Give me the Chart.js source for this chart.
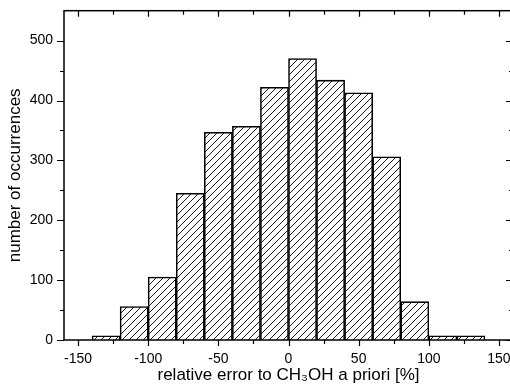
<!DOCTYPE html>
<html>
<head>
<meta charset="utf-8">
<script src="https://cdn.jsdelivr.net/npm/chart.js@4"></script>
<style>
  html, body { margin: 0; padding: 0; background: #fff; overflow: hidden; }
  #wrap { width: 520px; height: 386px; }
</style>
</head>
<body>
<div id="wrap"><canvas id="histCanvas" width="520" height="386"></canvas></div>
<script>
// histogram bins (centre of each 20 % wide bin) and counts
const binCenters = [-130, -110, -90, -70, -50, -30, -10, 10, 30, 50, 70, 90, 110, 130];
const counts     = [7, 56, 105, 245, 347, 357, 422, 470, 434, 413, 306, 64, 7, 7];

// axis ticks
const xMajorTicks = [-150, -100, -50, 0, 50, 100, 150];
const xMinorTicks = [-125, -75, -25, 25, 75, 125];
const yMajorTicks = [0, 100, 200, 300, 400, 500];
const yMinorTicks = [50, 150, 250, 350, 450];

const canvas = document.getElementById('histCanvas');
const ctx = canvas.getContext('2d');

// diagonal "/" hatch fill
function makeHatch() {
  const size = 7;
  const tile = document.createElement('canvas');
  tile.width = tile.height = size;
  const g = tile.getContext('2d');
  g.strokeStyle = '#000';
  g.lineWidth = 0.9;
  g.beginPath();
  g.moveTo(-1, size + 1); g.lineTo(size + 1, -1);
  g.moveTo(-1, 1);        g.lineTo(1, -1);
  g.moveTo(size - 1, size + 1); g.lineTo(size + 1, size - 1);
  g.stroke();
  return ctx.createPattern(tile, 'repeat');
}

// box frame + Origin-style ticks (out on bottom/left, in on top/right)
const frameTicks = {
  id: 'frameTicks',
  afterDatasetsDraw(chart) {
    const { ctx, chartArea: a, scales: { x, y } } = chart;
    ctx.save();
    ctx.strokeStyle = '#000';
    ctx.lineWidth = 1.5;
    ctx.strokeRect(a.left, a.top, a.right - a.left, a.bottom - a.top);

    ctx.lineWidth = 1.2;
    ctx.beginPath();
    const seg = (x1, y1, x2, y2) => { ctx.moveTo(x1, y1); ctx.lineTo(x2, y2); };
    xMajorTicks.forEach(v => {
      const px = Math.round(x.getPixelForValue(v)) + 0.5;
      seg(px, a.bottom, px, a.bottom + 6);
      seg(px, a.top, px, a.top + 6);
    });
    xMinorTicks.forEach(v => {
      const px = Math.round(x.getPixelForValue(v)) + 0.5;
      seg(px, a.bottom, px, a.bottom + 4);
      seg(px, a.top, px, a.top + 4);
    });
    yMajorTicks.forEach(v => {
      const py = Math.round(y.getPixelForValue(v)) + 0.5;
      seg(a.left - 7, py, a.left, py);
      seg(a.right - 7, py, a.right, py);
    });
    yMinorTicks.forEach(v => {
      const py = Math.round(y.getPixelForValue(v)) + 0.5;
      seg(a.left - 4, py, a.left, py);
      seg(a.right - 4, py, a.right, py);
    });
    ctx.stroke();
    ctx.restore();
  }
};

const tickFont = { family: '"Liberation Sans", Arial, sans-serif', size: 14 };
const titleFont = { family: '"Liberation Sans", Arial, sans-serif', size: 17 };

new Chart(canvas, {
  type: 'bar',
  data: {
    datasets: [{
      data: binCenters.map((c, i) => ({ x: c, y: counts[i] })),
      backgroundColor: makeHatch(),
      borderColor: '#000',
      borderWidth: 0.9,
      barPercentage: 1,
      categoryPercentage: 1
    }]
  },
  options: {
    responsive: false,
    animation: false,
    devicePixelRatio: 1,
    layout: { padding: { top: 10.7, right: 7, left: 0, bottom: 0 } },
    plugins: {
      legend: { display: false },
      tooltip: { enabled: false }
    },
    scales: {
      x: {
        type: 'linear',
        min: -160,
        max: 160,
        offset: false,
        grid: { display: false, drawTicks: false },
        border: { display: false },
        ticks: { color: '#000', font: tickFont, padding: 11, maxRotation: 0 },
        afterBuildTicks: s => { s.ticks = xMajorTicks.map(v => ({ value: v })); },
        afterFit: s => { s.height = 46; s.paddingLeft = 0; s.paddingRight = 0; },
        title: {
          display: true,
          text: 'relative error to CH\u2083OH a priori [%]',
          color: '#000',
          font: titleFont,
          padding: { top: 0, bottom: 0 }
        }
      },
      y: {
        min: 0,
        max: 550,
        grid: { display: false, drawTicks: false },
        border: { display: false },
        ticks: { color: '#000', font: tickFont, padding: 11 },
        afterBuildTicks: s => { s.ticks = yMajorTicks.map(v => ({ value: v })); },
        afterFit: s => { s.width = 64; s.paddingTop = 0; s.paddingBottom = 0; },
        title: {
          display: true,
          text: 'number of occurrences',
          color: '#000',
          font: titleFont,
          padding: { top: 5, bottom: 0 }
        }
      }
    }
  },
  plugins: [frameTicks]
});
</script>
</body>
</html>
